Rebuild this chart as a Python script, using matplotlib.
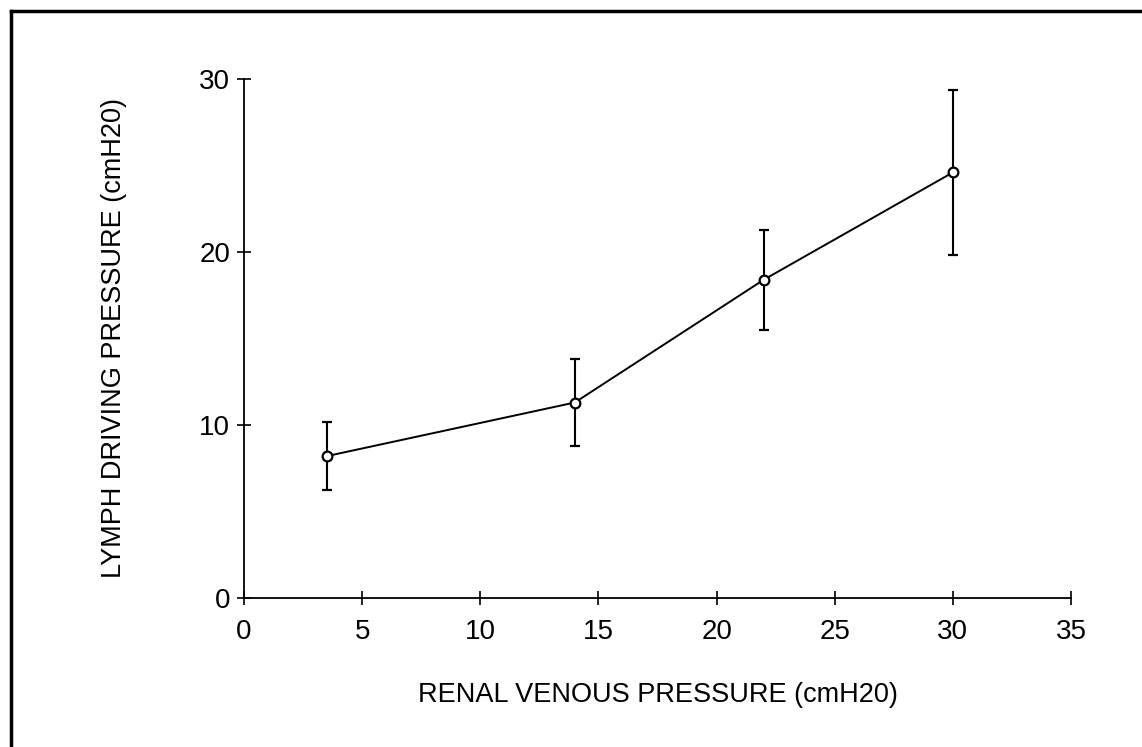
import numpy as np
import matplotlib
matplotlib.use("Agg")
import matplotlib.pyplot as plt
from matplotlib.lines import Line2D

# renal venous pressure vs lymph driving pressure (mean +/- error)
venous = np.array([3.5, 14.0, 22.0, 30.0])
lymph = np.array([8.2, 11.3, 18.4, 24.6])
err = np.array([1.95, 2.5, 2.9, 4.75])

xticks = [0, 5, 10, 15, 20, 25, 30, 35]
yticks = [0, 10, 20, 30]

plt.rcParams['font.family'] = ['Liberation Sans', 'DejaVu Sans']

fig = plt.figure(figsize=(11.42, 7.47), dpi=100)
ax = fig.add_axes([244/1142, 1 - 598/747, (1071-244)/1142, (598-79)/747])

ax.errorbar(venous, lymph, yerr=err, color='black', lw=1.4, elinewidth=1.5,
            capsize=3.5, capthick=1.5, marker='o', ms=7, mfc='white',
            mec='black', mew=1.6)

ax.set_xlim(0, 35)
ax.set_ylim(0, 30)
ax.set_xticks(xticks)
ax.set_yticks(yticks)
ax.spines['top'].set_visible(False)
ax.spines['right'].set_visible(False)
for s in ('left', 'bottom'):
    ax.spines[s].set_linewidth(1.3)
ax.tick_params(direction='inout', length=10, width=1.2, labelsize=20, colors='black')
ax.tick_params(axis='x', pad=10)
ax.tick_params(axis='y', pad=5)

ax.set_xlabel('RENAL VENOUS PRESSURE (cmH20)', fontsize=19.5, labelpad=27)
ax.set_ylabel('LYMPH DRIVING PRESSURE (cmH20)', fontsize=19.5, labelpad=52)

# frame lines (left and top) around the figure
fig.add_artist(Line2D([11/1142, 11/1142], [0, 1 - 11/747], transform=fig.transFigure,
                      color='black', lw=2.5))
fig.add_artist(Line2D([11/1142, 1], [1 - 11/747, 1 - 11/747], transform=fig.transFigure,
                      color='black', lw=2.5))

fig.savefig('out.png', dpi=100, facecolor='white')
